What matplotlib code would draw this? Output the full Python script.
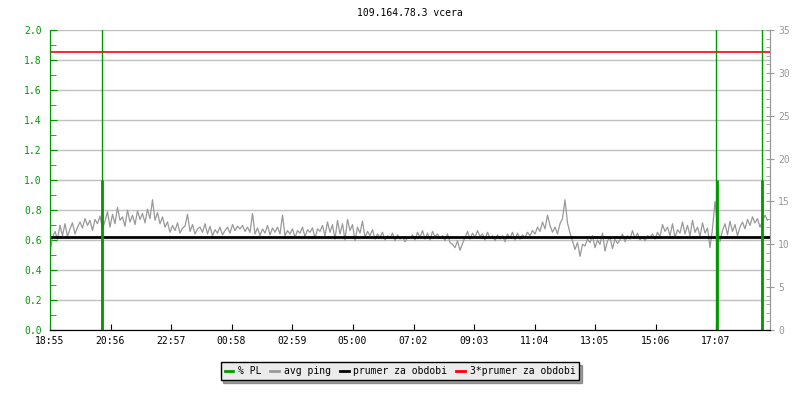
import numpy as np
import matplotlib
matplotlib.use("Agg")
import matplotlib.pyplot as plt
from matplotlib.lines import Line2D
from matplotlib.ticker import MultipleLocator, FormatStrFormatter

# ---- data ----
title = "109.164.78.3 vcera"
start_label = "18:55"
tick_labels = ["18:55", "20:56", "22:57", "00:58", "02:59", "05:00",
               "07:02", "09:03", "11:04", "13:05", "15:06", "17:07"]
step_min = 5  # one ping sample every 5 minutes

# avg ping [ms], 12 samples per hour, 24 hours
ping = [
    9.0, 10.8, 11.5, 10.6, 12.2, 11.0, 12.4, 10.9, 11.8, 12.5, 11.2, 12.0,
    12.6, 11.9, 13.0, 12.2, 12.8, 11.6, 12.9, 12.4, 13.3, 11.8, 12.7, 13.8,
    12.0, 13.5, 12.4, 14.3, 12.8, 13.2, 12.1, 14.0, 12.6, 13.4, 12.3, 13.9,
    12.9, 13.6, 12.5, 14.1, 13.0, 15.2, 12.8, 13.7, 12.4, 13.2, 12.0, 12.6,
    11.4, 12.2, 11.6, 12.5, 11.3, 11.9, 12.1, 13.5, 11.5, 12.3, 11.2, 11.8,
    12.0, 11.4, 12.4, 11.2, 12.1, 11.0, 11.7, 11.3, 12.0, 11.1, 11.6, 12.0,
    11.3, 12.3, 11.6, 12.1, 11.8, 12.2, 11.5, 12.0, 11.4, 13.6, 11.2, 11.9,
    11.0, 11.8, 11.3, 12.2, 11.1, 11.9, 11.4, 12.0, 11.2, 13.4, 11.0, 11.6,
    11.2, 11.8, 10.8, 11.6, 11.3, 12.0, 10.9, 11.7, 11.4, 11.9, 10.7, 11.8,
    11.5, 12.2, 11.0, 12.6, 11.4, 12.3, 10.6, 12.8, 11.2, 12.4, 10.5, 12.9,
    11.6, 12.3, 10.4, 12.0, 11.3, 12.7, 10.8, 11.5, 11.0, 11.7, 10.6, 11.2,
    10.8, 11.4, 10.5, 11.0, 10.7, 11.3, 10.4, 11.1, 10.6, 10.9, 10.3, 10.8,
    10.7, 11.1, 10.5, 11.4, 10.8, 11.6, 10.6, 11.3, 10.5, 11.5, 10.9, 11.2,
    10.7, 11.0, 10.4, 11.2, 10.2, 10.0, 9.6, 10.4, 9.3, 10.1, 10.8, 11.5,
    10.6, 11.3, 10.8, 11.6, 10.9, 11.2, 10.5, 11.4, 10.7, 11.0, 10.4, 11.1,
    10.6, 11.0, 10.3, 11.2, 10.7, 11.4, 10.5, 11.3, 10.6, 11.1, 10.8, 11.4,
    11.0, 11.6, 11.2, 12.0, 11.5, 12.6, 11.8, 13.4, 12.2, 11.4, 12.0, 11.2,
    12.4, 13.0, 15.2, 12.5, 11.3, 10.4, 9.4, 10.2, 8.6, 10.0, 9.8, 10.6,
    10.2, 11.0, 9.6, 10.5, 10.0, 11.3, 9.2, 10.4, 10.8, 9.5, 10.6, 10.1,
    10.5, 11.2, 10.3, 11.0, 10.6, 11.6, 10.7, 11.3, 10.5, 10.9, 10.4, 11.0,
    10.8, 11.2, 10.6, 11.4, 10.9, 12.3, 11.5, 12.0, 11.0, 12.4, 10.8, 11.7,
    11.3, 12.6, 11.2, 12.2, 11.0, 12.8, 11.4, 12.0, 10.9, 12.5, 11.3, 11.9,
    9.6, 11.8, 15.0, 12.2, 10.3, 11.6, 12.4, 11.1, 12.7, 11.5, 12.3, 11.0,
    12.0, 12.6, 11.8, 12.9, 12.2, 13.2, 12.5, 13.0, 12.0, 12.7, 13.4, 12.8,
]
mean_ping = 10.8

# packet loss [%] events: minutes after start
pl_min = [104, 1333, 1424]
pl_val = [1.0, 1.0, 1.0]
pl_spike_min = [103, 1332, 1423]
pl_spike_val = [100.0, 100.0, 100.0]

GREEN = "#009900"
GRAY = "#999999"
plt.rcParams["font.family"] = "DejaVu Sans Mono"
plt.rcParams["font.size"] = 7


def to_min(lbl):
    h, m = map(int, lbl.split(":"))
    h0, m0 = map(int, start_label.split(":"))
    return ((h * 60 + m) - (h0 * 60 + m0)) % 1440


t = np.arange(len(ping)) * step_min

fig = plt.figure(figsize=(8, 4), dpi=100)
ax = fig.add_axes([0.0625, 0.175, 0.9, 0.75])
ax2 = ax.twinx()

ax.set_xlim(0, 1440)
ax.set_ylim(0, 2.0)
ax2.set_ylim(0, 35)

# grid on left scale
ax.yaxis.set_major_locator(MultipleLocator(0.2))
ax.yaxis.set_minor_locator(MultipleLocator(0.1))
ax.grid(axis="y", color="#c0c0c0", lw=1)
ax.set_axisbelow(True)

ax2.plot(t, ping, color=GRAY, lw=0.9)
ax2.axhline(mean_ping, color="black", lw=2)
ax2.axhline(3 * mean_ping, color="red", lw=1.2)
ax2.vlines(pl_spike_min, 0, pl_spike_val, color=GREEN, lw=1, transform=ax.transData)
ax2.vlines(pl_min, 0, pl_val, color=GREEN, lw=2, transform=ax.transData)

ax.set_xticks([to_min(s) for s in tick_labels])
ax.set_xticklabels(tick_labels)
ax.yaxis.set_major_formatter(FormatStrFormatter("%.1f"))
ax.tick_params(axis="x", direction="in", length=4, colors="black", labelsize=7, pad=4)
ax.tick_params(axis="y", which="both", direction="in", colors=GREEN, labelsize=7, pad=6)
ax.tick_params(axis="y", which="major", length=5)
ax.tick_params(axis="y", which="minor", length=4)

ax2.yaxis.set_major_locator(MultipleLocator(5))
ax2.yaxis.set_minor_locator(MultipleLocator(1))
ax2.tick_params(axis="y", which="major", direction="inout", length=6, colors=GRAY, labelsize=7, pad=3)
ax2.tick_params(axis="y", which="minor", direction="in", length=3, colors=GRAY)

for a in (ax, ax2):
    a.spines["top"].set_visible(False)
    a.spines["left"].set_color(GREEN)
    a.spines["right"].set_color(GRAY)
    a.spines["bottom"].set_color("black")

ax.set_title(title, fontsize=7, pad=10)

handles = [Line2D([], [], color=GREEN, lw=2), Line2D([], [], color=GRAY, lw=2),
           Line2D([], [], color="black", lw=2), Line2D([], [], color="red", lw=2)]
labels = ["% PL", "avg ping", "prumer za obdobi", "3*prumer za obdobi"]
leg = fig.legend(handles, labels, loc="center", bbox_to_anchor=(0.5, 0.0725), ncol=4,
                 frameon=True, fancybox=False, shadow=True, fontsize=7,
                 handlelength=0.9, handletextpad=0.5, columnspacing=0.9,
                 borderpad=0.4, borderaxespad=0)
leg.get_frame().set_facecolor("#ebebeb")
leg.get_frame().set_edgecolor("black")
leg.get_frame().set_alpha(1)

fig.savefig("out.png", dpi=100)
